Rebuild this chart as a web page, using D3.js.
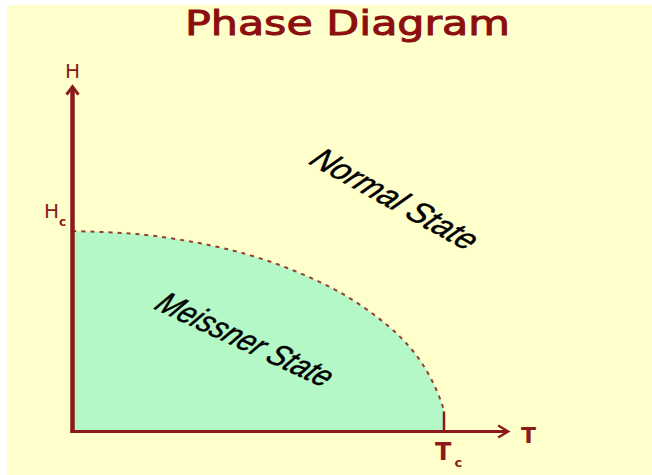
<!DOCTYPE html>
<html>
<head>
<meta charset="utf-8">
<script src="https://cdn.jsdelivr.net/npm/d3@7"></script>
<style>
html,body{margin:0;padding:0;background:#ffffff;}
svg{display:block;}
</style>
</head>
<body>
<svg id="chart" width="652" height="475"></svg>
<script>
// ---- data ----
const tValues = [0, 0.137, 0.218, 0.317, 0.392, 0.452, 0.540, 0.632, 0.720, 0.809, 0.882, 0.935, 0.970, 0.994, 1.0];
const hValues = [1, 0.990, 0.976, 0.948, 0.920, 0.893, 0.842, 0.774, 0.694, 0.586, 0.472, 0.356, 0.245, 0.140, 0.10];
const regionLabels = ["Normal State", "Meissner State"];
const axisLabels = ["H", "T"];
const criticalLabels = ["H", "T"]; // with subscript "c"
const titleText = "Phase Diagram";

// ---- layout ----
const W = 652, H = 475;
const dark = "#8c1a1a";
const svg = d3.select("#chart");

svg.append("rect").attr("x", 7).attr("y", 5).attr("width", W - 7).attr("height", H - 5).attr("fill", "#ffffcc");

const x = d3.scaleLinear().domain([0, 1]).range([72.5, 444]);
const y = d3.scaleLinear().domain([0, 1]).range([431.5, 231]);
const xAxisEnd = 1.17, yAxisEnd = 1.715;

const pts = tValues.map((t, i) => ({t, h: hValues[i]}));

// filled Meissner region
const area = d3.area().x(d => x(d.t)).y0(y(0)).y1(d => y(d.h)).curve(d3.curveCatmullRom.alpha(0.5));
svg.append("path").datum(pts).attr("d", area).attr("fill", "#b3f8c6");

// boundary (dotted)
const line = d3.line().x(d => x(d.t)).y(d => y(d.h)).curve(d3.curveCatmullRom.alpha(0.5));
svg.append("path").datum(pts).attr("d", line)
  .attr("fill", "none").attr("stroke", dark).attr("stroke-width", 2)
  .attr("stroke-dasharray", "4,5").attr("stroke-opacity", 0.85);

// solid segment at Tc
const last = pts[pts.length - 1];
svg.append("line").attr("x1", x(1)).attr("x2", x(1)).attr("y1", y(0)).attr("y2", y(last.h))
  .attr("stroke", dark).attr("stroke-width", 2.5);

// axes
svg.append("line").attr("x1", x(0)).attr("x2", x(0)).attr("y1", y(0) + 1.5).attr("y2", y(yAxisEnd))
  .attr("stroke", dark).attr("stroke-width", 4.5);
svg.append("line").attr("x1", x(0) - 2).attr("x2", x(xAxisEnd)).attr("y1", y(0)).attr("y2", y(0))
  .attr("stroke", dark).attr("stroke-width", 3);

// arrowheads
const yTip = [x(0), y(yAxisEnd) - 1];
svg.append("path")
  .attr("d", `M${yTip[0] - 6},${yTip[1] + 8} L${yTip[0]},${yTip[1]} L${yTip[0] + 6},${yTip[1] + 8}`)
  .attr("fill", "none").attr("stroke", dark).attr("stroke-width", 3);
const xTip = [x(xAxisEnd) + 1, y(0)];
svg.append("path")
  .attr("d", `M${xTip[0] - 10},${xTip[1] - 6} L${xTip[0]},${xTip[1]} L${xTip[0] - 10},${xTip[1] + 6}`)
  .attr("fill", "none").attr("stroke", dark).attr("stroke-width", 2.5);

// title
svg.append("text").attr("x", 347.5).attr("y", 35).attr("text-anchor", "middle")
  .attr("font-family", "DejaVu Sans, Verdana, sans-serif")
  .attr("font-size", 34).attr("fill", "#8b0f0f")
  .attr("stroke", "#8b0f0f").attr("stroke-width", 1)
  .attr("textLength", 325).attr("lengthAdjust", "spacingAndGlyphs")
  .text(titleText);

// axis labels
svg.append("text").attr("x", x(0)).attr("y", 78).attr("text-anchor", "middle")
  .attr("font-family", "DejaVu Sans, sans-serif").attr("font-size", 20).attr("fill", dark)
  .text(axisLabels[0]);
svg.append("text").attr("x", 521).attr("y", 443)
  .attr("font-family", "DejaVu Sans, sans-serif").attr("font-weight", "bold").attr("font-size", 22).attr("fill", dark)
  .text(axisLabels[1]);

// critical labels
const hc = svg.append("text").attr("x", 44).attr("y", y(1) - 13)
  .attr("font-family", "DejaVu Sans, sans-serif").attr("font-size", 20).attr("fill", dark);
hc.append("tspan").text(criticalLabels[0]);
hc.append("tspan").attr("font-size", 12).attr("dy", 8).attr("font-weight", "bold").text("c");

const tc = svg.append("text").attr("x", x(1) - 9).attr("y", 460)
  .attr("font-family", "DejaVu Sans, sans-serif").attr("font-weight", "bold").attr("font-size", 24).attr("fill", dark);
tc.append("tspan").text(criticalLabels[1]);
tc.append("tspan").attr("font-size", 13).attr("dy", 7).attr("dx", 3).text("c");

// region labels
function regionLabel(txt, cx, cy, angle, len, fs) {
  svg.append("text")
    .attr("transform", `translate(${cx},${cy}) rotate(${angle}) skewX(-16)`)
    .attr("text-anchor", "middle")
    .attr("font-family", "Liberation Sans Narrow, Liberation Sans, Arial, sans-serif")
    .attr("font-style", "italic").attr("font-size", fs).attr("fill", "#000")
    .attr("stroke", "#000").attr("stroke-width", 0.5)
    .attr("textLength", len).attr("lengthAdjust", "spacingAndGlyphs")
    .text(txt);
}
regionLabel(regionLabels[0], 387, 207, 29, 182, 32);
regionLabel(regionLabels[1], 238, 348, 25, 188, 32);
</script>
</body>
</html>
